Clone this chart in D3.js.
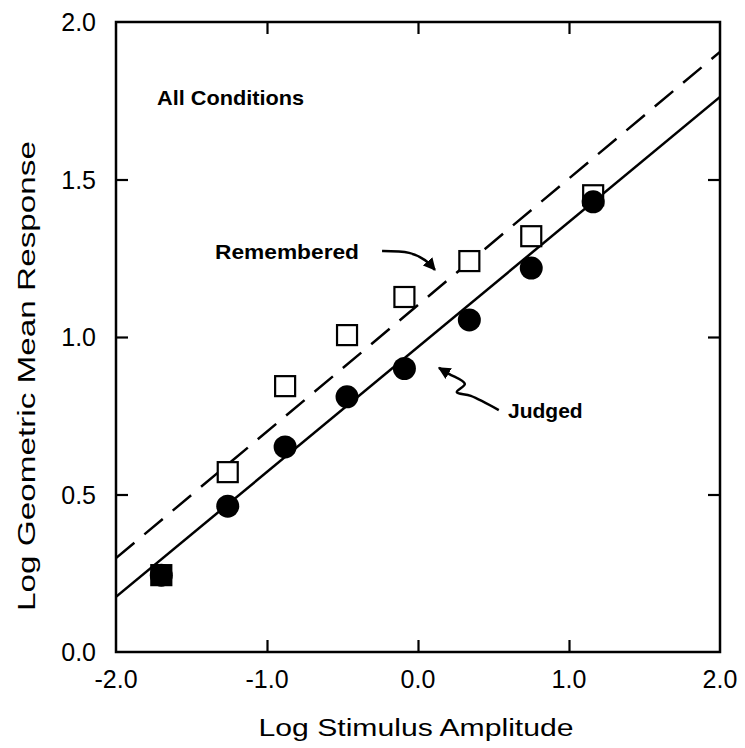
<!DOCTYPE html>
<html><head><meta charset="utf-8">
<script src="https://cdn.jsdelivr.net/npm/d3@7"></script>
<style>body{margin:0;background:#fff}</style>
</head><body>
<svg id="c" width="745" height="748"></svg>
<script>
// ---- data ----
const stimulus = [-1.70, -1.26, -0.88, -0.47, -0.09, 0.34, 0.75, 1.16];
const judged = [0.244, 0.463, 0.651, 0.810, 0.900, 1.054, 1.219, 1.429];
const remembered = [0.244, 0.571, 0.844, 1.006, 1.127, 1.241, 1.320, 1.450];
const judgedFit = [[-2.0, 0.175], [2.0, 1.762]];
const rememberedFit = [[-2.0, 0.298], [2.0, 1.905]];
const xTicks = [-2.0, -1.0, 0.0, 1.0, 2.0];
const yTicks = [0.0, 0.5, 1.0, 1.5, 2.0];
const rememberedArrow = [[-0.238, 1.273], [-0.059, 1.267], [0.046, 1.244], [0.112, 1.213]];
const judgedArrow = [[0.535, 0.768], [0.350, 0.813], [0.257, 0.825], [0.310, 0.851], [0.205, 0.883], [0.139, 0.902]];

const svg = d3.select("#c");
const L = 116, R = 720, T = 22, B = 652;
const x = d3.scaleLinear().domain([-2, 2]).range([L, R]);
const y = d3.scaleLinear().domain([0, 2]).range([B, T]);
const font = "'Liberation Sans', Arial, Helvetica, sans-serif";

const defs = svg.append("defs");
defs.append("clipPath").attr("id", "clip")
  .append("rect").attr("x", L).attr("y", T).attr("width", R - L).attr("height", B - T);
defs.append("marker").attr("id", "ah").attr("viewBox", "0 0 10 10")
  .attr("refX", 9).attr("refY", 5).attr("markerWidth", 5).attr("markerHeight", 5)
  .attr("orient", "auto").attr("markerUnits", "strokeWidth")
  .append("path").attr("d", "M0,0 L10,5 L0,10 z").attr("fill", "#000");

// axes (ticks inward)
const tl = 12;
const gB = svg.append("g").attr("transform", `translate(0,${B})`)
  .call(d3.axisTop(x).tickValues(xTicks.slice(1, -1)).tickSize(tl).tickFormat(""));
const gT = svg.append("g").attr("transform", `translate(0,${T})`)
  .call(d3.axisBottom(x).tickValues(xTicks.slice(1, -1)).tickSize(tl).tickFormat(""));
const gL = svg.append("g").attr("transform", `translate(${L},0)`)
  .call(d3.axisRight(y).tickValues(yTicks.slice(1, -1)).tickSize(tl).tickFormat(""));
const gR = svg.append("g").attr("transform", `translate(${R},0)`)
  .call(d3.axisLeft(y).tickValues(yTicks.slice(1, -1)).tickSize(tl).tickFormat(""));
[gB, gT, gL, gR].forEach(g => {
  g.select(".domain").remove();
  g.selectAll("line").attr("stroke", "#000").attr("stroke-width", 2.2);
});

svg.append("rect").attr("x", L).attr("y", T).attr("width", R - L).attr("height", B - T)
  .attr("fill", "none").attr("stroke", "#000").attr("stroke-width", 2.5);

// tick labels
svg.append("g").selectAll("text").data(xTicks).join("text")
  .attr("x", d => x(d)).attr("y", B + 36)
  .attr("text-anchor", "middle").attr("font-family", font).attr("font-size", 25)
  .text(d => d3.format(".1f")(d).replace("−", "-"));
svg.append("g").selectAll("text").data(yTicks).join("text")
  .attr("x", L - 20).attr("y", d => y(d) + 9)
  .attr("text-anchor", "end").attr("font-family", font).attr("font-size", 25)
  .text(d => d3.format(".1f")(d));

// axis titles
svg.append("text").attr("x", (L + R) / 2 - 2).attr("y", 736)
  .attr("text-anchor", "middle").attr("font-family", font).attr("font-size", 23)
  .attr("textLength", 315).attr("lengthAdjust", "spacingAndGlyphs")
  .text("Log Stimulus Amplitude");
svg.append("text").attr("transform", `translate(35,${376}) rotate(-90)`)
  .attr("text-anchor", "middle").attr("font-family", font).attr("font-size", 23)
  .attr("textLength", 470).attr("lengthAdjust", "spacingAndGlyphs")
  .text("Log Geometric Mean Response");

// fit lines
const line = d3.line().x(d => x(d[0])).y(d => y(d[1]));
const plot = svg.append("g").attr("clip-path", "url(#clip)");
plot.append("path").attr("d", line(rememberedFit)).attr("fill", "none")
  .attr("stroke", "#000").attr("stroke-width", 2.5).attr("stroke-dasharray", "24,13");
plot.append("path").attr("d", line(judgedFit)).attr("fill", "none")
  .attr("stroke", "#000").attr("stroke-width", 2.5);

// markers (an open square hidden under a coincident filled circle prints as a filled square)
const s = 20;
plot.append("g").selectAll("rect").data(stimulus).join("rect")
  .attr("x", (d) => x(d) - s / 2).attr("y", (d, i) => y(remembered[i]) - s / 2)
  .attr("width", s).attr("height", s)
  .attr("fill", (d, i) => remembered[i] === judged[i] ? "#000" : "#fff")
  .attr("stroke", "#000").attr("stroke-width", 2.2);
plot.append("g").selectAll("circle").data(stimulus).join("circle")
  .attr("cx", d => x(d)).attr("cy", (d, i) => y(judged[i])).attr("r", 11.5)
  .attr("fill", "#000");

// annotations
svg.append("text").attr("x", 157).attr("y", 105).attr("font-family", font)
  .attr("font-size", 21).attr("font-weight", "bold")
  .attr("textLength", 147).attr("lengthAdjust", "spacingAndGlyphs").text("All Conditions");
svg.append("text").attr("x", 215).attr("y", 259).attr("font-family", font)
  .attr("font-size", 21).attr("font-weight", "bold")
  .attr("textLength", 144).attr("lengthAdjust", "spacingAndGlyphs").text("Remembered");
svg.append("text").attr("x", 508).attr("y", 418).attr("font-family", font)
  .attr("font-size", 21).attr("font-weight", "bold").text("Judged");

const aline = d3.line().x(d => x(d[0])).y(d => y(d[1])).curve(d3.curveCatmullRom);
svg.append("path").attr("d", aline(rememberedArrow)).attr("fill", "none")
  .attr("stroke", "#000").attr("stroke-width", 2.5).attr("marker-end", "url(#ah)");
svg.append("path").attr("d", aline(judgedArrow)).attr("fill", "none")
  .attr("stroke", "#000").attr("stroke-width", 2.5).attr("marker-end", "url(#ah)");
</script>
</body></html>
